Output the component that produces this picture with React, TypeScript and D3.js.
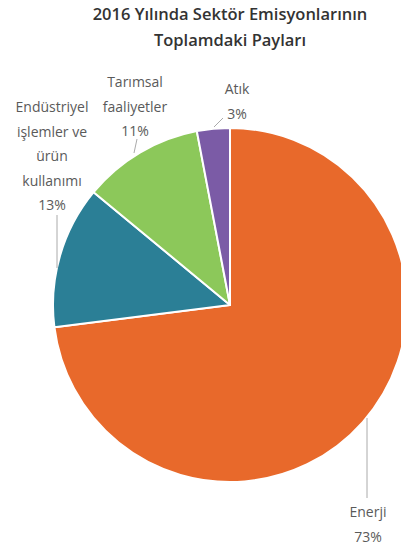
import React from "react";
import * as d3 from "d3";

const categories = ["Enerji", "Endüstriyel işlemler ve ürün kullanımı", "Tarımsal faaliyetler", "Atık"];
const values = [73, 13, 11, 3];
const colors = ["#E8692B", "#2B7F96", "#8CC85A", "#7B5BA6"];
const labelLines = [
  ["Enerji", "73%"],
  ["Endüstriyel", "işlemler ve", "ürün", "kullanımı", "13%"],
  ["Tarımsal", "faaliyetler", "11%"],
  ["Atık", "3%"],
];
const titleLines = ["2016 Yılında Sektör Emisyonlarının", "Toplamdaki Payları"];

const W = 401;
const H = 551;
const cx = 230;
const cy = 305;
const R = 177;

// label anchors (x center, first baseline) and leader lines
const labelPos = [
  { x: 368, y: 517, lines: [[367, 418, 367, 498]] },
  { x: 52, y: 112, lines: [[57, 215, 57, 268]] },
  { x: 135, y: 87, lines: [[134, 153, 137, 139]] },
  { x: 237, y: 94, lines: [[214, 127, 223, 118]] },
];

export default function App() {
  const pie = d3.pie<number>().sort(null).value((d) => d);
  const arcs = pie(values);
  const arc = d3.arc<d3.PieArcDatum<number>>().innerRadius(0).outerRadius(R);
  const lh = 24.5;
  return (
    <svg
      width={W}
      height={H}
      style={{ position: "absolute", left: 0, top: 0, background: "#fff" }}
      fontFamily="'Open Sans', sans-serif"
    >
      <rect width={W} height={H} fill="#fff" />
      {titleLines.map((t, i) => (
        <text
          key={t}
          x={230}
          y={20 + i * 25.5}
          textAnchor="middle"
          fontSize={16.5}
          fontWeight={600}
          fill="#333"
        >
          {t}
        </text>
      ))}
      <g transform={`translate(${cx},${cy})`}>
        {arcs.map((a, i) => (
          <path key={categories[i]} d={arc(a) || ""} fill={colors[i]} stroke="#fff" strokeWidth={2} strokeLinejoin="round" />
        ))}
      </g>
      {labelPos.map((p, i) => (
        <g key={categories[i]}>
          {p.lines.map((l, j) => (
            <line key={j} x1={l[0]} y1={l[1]} x2={l[2]} y2={l[3]} stroke="#aaa" strokeWidth={1} />
          ))}
          {labelLines[i].map((t, j) => (
            <text key={j} x={p.x} y={p.y + j * lh} textAnchor="middle" fontSize={14} fill="#5a5a5a">
              {t}
            </text>
          ))}
        </g>
      ))}
    </svg>
  );
}
